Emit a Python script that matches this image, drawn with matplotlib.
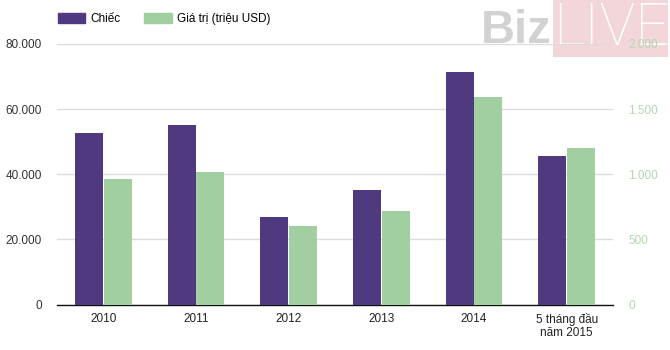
import matplotlib
matplotlib.use("Agg")
import matplotlib.pyplot as plt
from matplotlib.patches import Rectangle
import numpy as np

plt.rcParams['font.family'] = ['Liberation Sans', 'DejaVu Sans']

categories = ["2010", "2011", "2012", "2013", "2014", "5 tháng đầu\nnăm 2015"]
units = [52700, 55100, 26800, 35100, 71300, 45500]          # Chiếc
value_musd = [960, 1020, 603, 720, 1595, 1200]              # Giá trị (triệu USD)
left_ticks = [0, 20000, 40000, 60000, 80000]
right_ticks = [0, 500, 1000, 1500, 2000]

purple = "#4f3a7f"
green = "#a1cfa2"
grid_c = "#dcdcdc"

def dot_fmt(v):
    return f"{v:,.0f}".replace(",", ".")

fig = plt.figure(figsize=(6.7, 3.5), dpi=100)
W, H = 670, 350

# watermark behind the plot
fig.patches.append(Rectangle((553 / W, 1 - 57 / H), 115 / W, 57 / H,
                             transform=fig.transFigure, facecolor="#f3d6da",
                             edgecolor="none", zorder=-2))
fig.text(516 / W, 1 - 31 / H, "Biz", fontsize=34, fontweight="bold",
         color="#d2d2d2", ha="center", va="center", zorder=-1)
fig.text(611 / W, 1 - 29 / H, "LIVE", fontsize=43, color="white",
         family=["Roboto", "DejaVu Sans"], fontweight="light",
         ha="center", va="center", zorder=-1)

ax = fig.add_axes([57 / W, 45.5 / H, 556 / W, 260.5 / H])
ax.set_facecolor("none")
ax2 = ax.twinx()
ax2.set_facecolor("none")

x = np.arange(len(categories))
bw = 0.3
ax.bar(x - bw / 2 - 0.005, units, width=bw, color=purple, zorder=3)
ax2.bar(x + bw / 2 + 0.005, value_musd, width=bw, color=green, zorder=3)

ax.set_xlim(-0.5, len(categories) - 0.5)
ax.set_ylim(0, 80000)
ax2.set_ylim(0, 2000)

ax.set_yticks(left_ticks)
ax.set_yticklabels([dot_fmt(v) for v in left_ticks], fontsize=8.5, color="#333333")
ax2.set_yticks(right_ticks)
ax2.set_yticklabels([dot_fmt(v) for v in right_ticks], fontsize=8.5, color="#b2d7b2")
ax.tick_params(axis="y", length=0, pad=11)
ax2.tick_params(axis="y", length=0, pad=11)

ax.set_xticks(x)
ax.set_xticklabels(categories, fontsize=8.5, color="#222222", linespacing=1.1)
ax.tick_params(axis="x", length=0, pad=6)

for a in (ax, ax2):
    for s in ("top", "left", "right"):
        a.spines[s].set_visible(False)
ax.spines["bottom"].set_color("#111111")
ax.spines["bottom"].set_linewidth(1.0)
ax2.spines["bottom"].set_visible(False)

ax.grid(axis="y", color=grid_c, linewidth=1.0, zorder=0)
ax.set_axisbelow(True)

handles = [Rectangle((0, 0), 1, 1, color=purple), Rectangle((0, 0), 1, 1, color=green)]
fig.legend(handles, ["Chiếc", "Giá trị (triệu USD)"], loc="upper left",
           bbox_to_anchor=(47 / W, 1 - 2 / H), ncol=2, frameon=False,
           fontsize=8.5, handlelength=2.3, handleheight=1.0, columnspacing=2.0,
           handletextpad=0.5)

fig.savefig("out.png", dpi=100)
